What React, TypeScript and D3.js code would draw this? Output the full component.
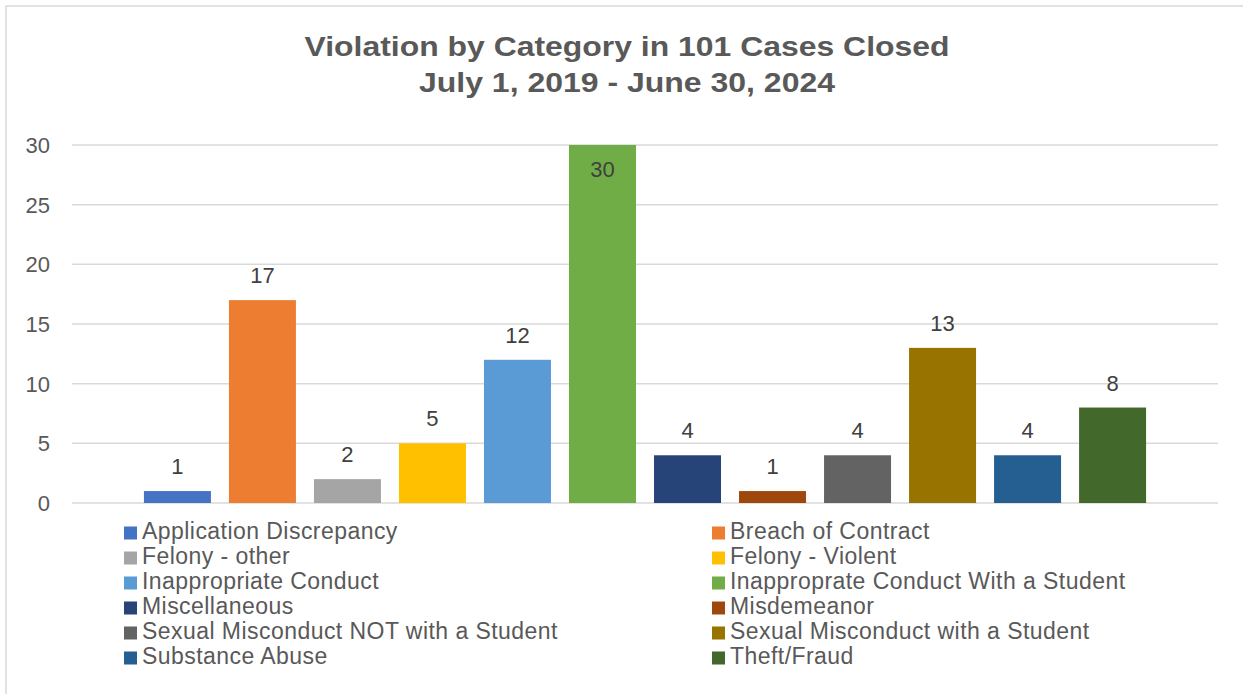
import React from "react";
import * as d3 from "d3";

const categories = [
  "Application Discrepancy",
  "Breach of Contract",
  "Felony - other",
  "Felony - Violent",
  "Inappropriate Conduct",
  "Inapproprate Conduct With a Student",
  "Miscellaneous",
  "Misdemeanor",
  "Sexual Misconduct NOT with a Student",
  "Sexual Misconduct with a Student",
  "Substance Abuse",
  "Theft/Fraud",
];
const values = [1, 17, 2, 5, 12, 30, 4, 1, 4, 13, 4, 8];
const colors = [
  "#4472C4", "#ED7D31", "#A5A5A5", "#FFC000", "#5B9BD5", "#70AD47",
  "#264478", "#9E480E", "#636363", "#997300", "#255E91", "#43682B",
];
const yTicks = [0, 5, 10, 15, 20, 25, 30];
const titleLines = ["Violation by Category in 101 Cases Closed", "July 1, 2019 - June 30, 2024"];
const titleWidths = [645, 416];

const W = 1243, H = 694;
const left = 72, right = 1218, top = 145, bottom = 503;
const font = "Liberation Sans, Arial, sans-serif";

export default function App() {
  const y = d3.scaleLinear().domain([0, 30]).range([bottom, top]);
  const x = d3.scaleBand<string>().domain(categories).range([left, right])
    .paddingInner(0.212).paddingOuter(0.846);

  return (
    <svg width={W} height={H} style={{ position: "absolute", left: 0, top: 0 }} fontFamily={font}>
      <rect x={0} y={0} width={W} height={H} fill="#fff" />
      <rect x={6} y={6} width={W + 10} height={H + 10} fill="none" stroke="#D9D9D9" strokeWidth={1.5} />
      {titleLines.map((t, i) => (
        <text key={t} x={627} y={56 + i * 36} textAnchor="middle" fontSize={27} fontWeight="bold" fill="#595959"
          textLength={titleWidths[i]} lengthAdjust="spacingAndGlyphs">{t}</text>
      ))}
      {yTicks.map((t) => (
        <g key={t}>
          <line x1={left} x2={right} y1={y(t)} y2={y(t)} stroke="#D9D9D9" strokeWidth={1.5} />
          <text x={50} y={y(t)} dy="0.36em" textAnchor="end" fontSize={22} fill="#595959">{t}</text>
        </g>
      ))}
      {categories.map((c, i) => {
        const v = values[i];
        const bx = x(c)!;
        const inside = y(v) - top < 20;
        return (
          <g key={c}>
            <rect x={bx} y={y(v)} width={x.bandwidth()} height={bottom - y(v)} fill={colors[i]} />
            <text x={bx + x.bandwidth() / 2} y={inside ? y(v) + 32 : y(v) - 17} textAnchor="middle" fontSize={22} fill="#404040">{v}</text>
          </g>
        );
      })}
      {categories.map((c, i) => {
        const col = i % 2;
        const row = Math.floor(i / 2);
        const lx = col === 0 ? 124 : 712;
        const base = 539 + row * 25;
        return (
          <g key={"l" + c}>
            <rect x={lx} y={base - 12.5} width={13} height={13} fill={colors[i]} />
            <text x={lx + 18} y={base} fontSize={23} letterSpacing={0.45} fill="#595959">{c}</text>
          </g>
        );
      })}
    </svg>
  );
}
